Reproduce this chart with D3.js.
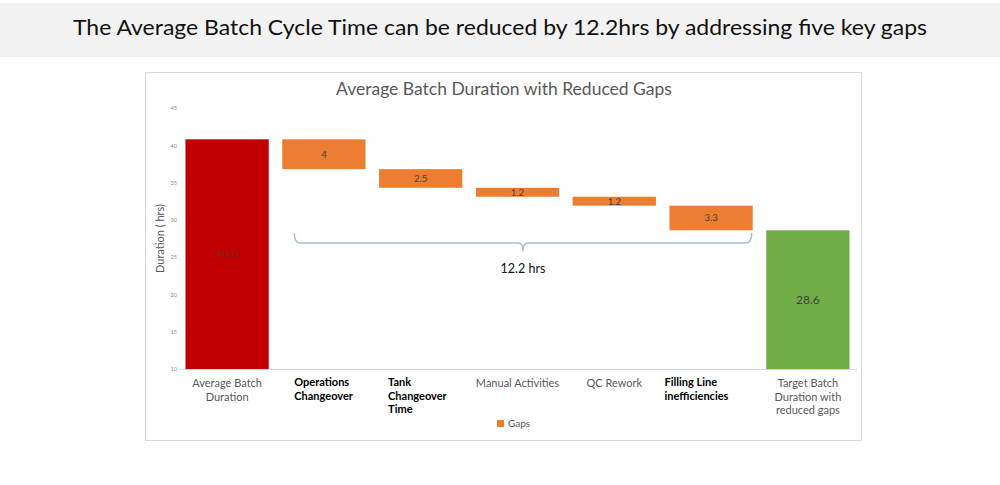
<!DOCTYPE html>
<html>
<head>
<meta charset="utf-8">
<script src="https://cdn.jsdelivr.net/npm/d3@7"></script>
<style>
  body { margin: 0; background: #fff; }
  svg { display: block; font-family: Lato, "Open Sans", sans-serif; }
</style>
</head>
<body>
<script>
// Data
var categories = ["Average Batch Duration", "Operations Changeover", "Tank Changeover Time",
    "Manual Activities", "QC Rework", "Filling Line inefficiencies", "Target Batch Duration with reduced gaps"];
var labelLines = [["Average Batch", "Duration"], ["Operations", "Changeover"], ["Tank", "Changeover", "Time"],
    ["Manual Activities"], ["QC Rework"], ["Filling Line", "inefficiencies"], ["Target Batch", "Duration with", "reduced gaps"]];
var startValue = 40.8;
var gapValues = [4, 2.5, 1.2, 1.2, 3.3];
var targetValue = 28.6;
var yTicks = [10, 15, 20, 25, 30, 35, 40, 45];
var totalGapLabel = "12.2 hrs";

var width = 1000, height = 485;

var svg = d3.select("body").append("svg")
    .attr("width", width)
    .attr("height", height);

// Header band
svg.append("rect")
    .attr("x", 0).attr("y", 3)
    .attr("width", width).attr("height", 54)
    .attr("fill", "#f2f2f2");

svg.append("text")
    .attr("x", 500).attr("y", 35)
    .attr("text-anchor", "middle")
    .attr("font-size", 22)
    .attr("textLength", 854)
    .attr("lengthAdjust", "spacingAndGlyphs")
    .attr("fill", "#111")
    .text("The Average Batch Cycle Time can be reduced by 12.2hrs by addressing five key gaps");

// Chart frame
svg.append("rect")
    .attr("x", 145.5).attr("y", 72.5)
    .attr("width", 716).attr("height", 368)
    .attr("fill", "#fff")
    .attr("stroke", "#d9d9d9");

svg.append("text")
    .attr("x", 504).attr("y", 95)
    .attr("text-anchor", "middle")
    .attr("font-size", 17.5)
    .attr("fill", "#595959")
    .text("Average Batch Duration with Reduced Gaps");

// Build waterfall rows
var rows = [];
rows.push({ name: categories[0], lo: 10, hi: startValue, value: startValue, type: "total" });
var level = startValue;
gapValues.forEach(function(g, i) {
    rows.push({ name: categories[i + 1], lo: level - g, hi: level, value: g, type: "gap" });
    level = level - g;
});
rows.push({ name: categories[6], lo: 10, hi: targetValue, value: targetValue, type: "target" });

// Scales
var x = d3.scaleBand()
    .domain(categories)
    .range([179, 856])
    .paddingInner(0.14)
    .paddingOuter(0.067);

var y = d3.scaleLinear()
    .domain([10, 45])
    .range([369, 108]);

var colors = { total: "#c00000", gap: "#ed7d31", target: "#70ad47" };
var labelColors = { total: "#8a1f1f", gap: "#404040", target: "#404040" };

// Y axis
var yAxis = d3.axisLeft(y).tickValues(yTicks).tickSize(0).tickPadding(0);
var yg = svg.append("g")
    .attr("transform", "translate(177,0)")
    .call(yAxis);
yg.select(".domain").remove();
yg.selectAll("text")
    .attr("font-size", 5.5)
    .attr("fill", "#8c8c8c")
    .attr("font-family", "Lato, sans-serif");

svg.append("text")
    .attr("transform", "translate(164," + y(27.5) + ") rotate(-90)")
    .attr("text-anchor", "middle")
    .attr("font-size", 11)
    .attr("fill", "#595959")
    .text("Duration ( hrs)");

// Baseline
svg.append("line")
    .attr("x1", 179).attr("x2", 857)
    .attr("y1", y(10) + 0.5).attr("y2", y(10) + 0.5)
    .attr("stroke", "#d9d9d9");

// Bars
svg.selectAll(".bar")
    .data(rows)
    .enter().append("rect")
    .attr("class", "bar")
    .attr("x", function(d) { return x(d.name); })
    .attr("width", x.bandwidth())
    .attr("y", function(d) { return y(d.hi); })
    .attr("height", function(d) { return y(d.lo) - y(d.hi); })
    .attr("fill", function(d) { return colors[d.type]; });

svg.selectAll(".val")
    .data(rows)
    .enter().append("text")
    .attr("class", "val")
    .attr("x", function(d) { return x(d.name) + x.bandwidth() / 2; })
    .attr("y", function(d) { return (y(d.lo) + y(d.hi)) / 2; })
    .attr("dy", "0.35em")
    .attr("text-anchor", "middle")
    .attr("font-size", function(d) { return d.type == "gap" ? 9.5 : 12; })
    .attr("fill", function(d) { return labelColors[d.type]; })
    .text(function(d) { return d.value; });

// Category labels: the highlighted ones are bold black, left aligned
var boldOffsets = { 1: 12, 2: 9, 5: -5 };
categories.forEach(function(c, i) {
    var bold = boldOffsets[i] !== undefined;
    var t = svg.append("text")
        .attr("font-size", bold ? 11 : 11)
        .attr("font-weight", bold ? "bold" : "normal")
        .attr("fill", bold ? "#000" : "#595959")
        .attr("text-anchor", bold ? "start" : "middle");
    var tx = bold ? x(c) + boldOffsets[i] : x(c) + x.bandwidth() / 2;
    labelLines[i].forEach(function(line, j) {
        t.append("tspan")
            .attr("x", tx)
            .attr("y", (bold ? 386 : 387) + j * 13.7)
            .text(line);
    });
});

// Brace over the gaps
var bx0 = x(categories[1]) + 12,
    bx1 = x(categories[5]) + x.bandwidth() - 1,
    bxm = (bx0 + bx1) / 2,
    byTop = 233, byLine = 243, byTip = 251;
var brace = d3.path();
brace.moveTo(bx0, byTop);
brace.quadraticCurveTo(bx0, byLine, bx0 + 6, byLine);
brace.lineTo(bxm - 5, byLine);
brace.quadraticCurveTo(bxm, byLine, bxm, byTip);
brace.quadraticCurveTo(bxm, byLine, bxm + 5, byLine);
brace.lineTo(bx1 - 6, byLine);
brace.quadraticCurveTo(bx1, byLine, bx1, byTop);
svg.append("path")
    .attr("d", brace.toString())
    .attr("fill", "none")
    .attr("stroke", "#a7bcd9")
    .attr("stroke-width", 1.5);

svg.append("text")
    .attr("x", bxm).attr("y", 273)
    .attr("text-anchor", "middle")
    .attr("font-size", 12.5)
    .attr("fill", "#111")
    .text(totalGapLabel);

// Legend
svg.append("rect")
    .attr("x", 497).attr("y", 420)
    .attr("width", 7).attr("height", 7)
    .attr("fill", colors.gap);
svg.append("text")
    .attr("x", 508).attr("y", 427)
    .attr("font-size", 10)
    .attr("fill", "#595959")
    .text("Gaps");
</script>
</body>
</html>
